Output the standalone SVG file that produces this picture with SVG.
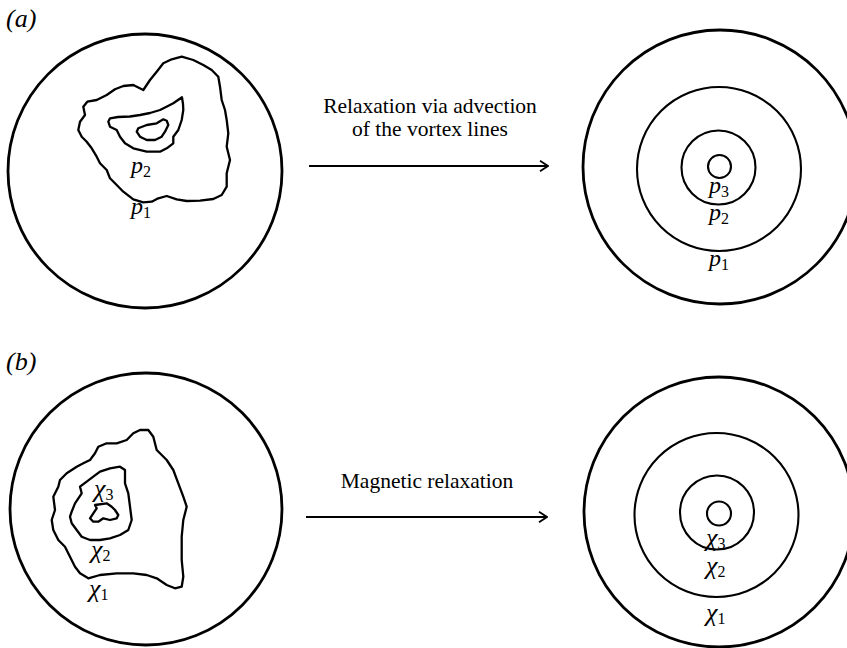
<svg xmlns="http://www.w3.org/2000/svg" width="847" height="648" viewBox="0 0 847 648">
  <style>
    .disk { fill: none; stroke: #000; stroke-width: 2.8; }
    .ring { fill: none; stroke: #000; stroke-width: 2.1; }
    .contour { fill: none; stroke: #000; stroke-width: 2.3; stroke-linejoin: round; }
    .cap { font-family: "Liberation Serif", "Times New Roman", serif; font-size: 21.5px; fill: #000; }
    .lab { font-family: "Liberation Serif", "Times New Roman", serif; font-size: 24px; font-style: italic; fill: #000; }
    .chi { font-size: 26px; }
    .panel { font-size: 26px; }
    .sub { font-style: normal; font-size: 16px; }
    .conn { fill: none; stroke: #000; stroke-width: 2; }
  </style>
  <defs>
    <marker id="chevron" viewBox="0 0 10 12" refX="9" refY="6" markerWidth="10" markerHeight="12" markerUnits="userSpaceOnUse" orient="auto">
      <path d="M1,0.8 L9,6 L1,11.2" fill="none" stroke="#000" stroke-width="1.8"/>
    </marker>
  </defs>

  <rect width="847" height="648" fill="#fff"/>

  <!-- panel labels -->
  <text class="lab panel" x="6" y="27">(a)</text>
  <text class="lab panel" x="6" y="370">(b)</text>

  <!-- (a) initial vortex-line state: tangled pressure contours -->
  <g id="a-initial">
    <circle class="disk" cx="145" cy="171" r="137"/>
    <path class="contour" d="M181.7,56.7 L193.3,60 L203.3,65 L211.7,70 L218.3,76.7 L220,86.7 L221.7,100 L225,110 L226.7,120 L228.3,133.3 L226.7,146.7 L230,160 L226.7,173.3 L226.7,186.7 L221.7,195 L213.3,199 L200,200.7 L186.7,201 L176.7,199.3 L166.7,196 L158.3,198.3 L151.7,201.7 L143.3,202.3 L133.3,199.3 L123.3,191.7 L116.7,185 L110,178.3 L106.7,170 L100,163.3 L96.7,156.7 L91.7,148.3 L86.7,141.7 L81.7,136.7 L78.3,130 L80,121.7 L85,115 L83.3,106.7 L87.3,101.7 L96.7,100 L106.7,95 L115,89.3 L123.3,86 L133.3,85 L143.3,90 L150,80 L156.7,71.7 L163.3,63.3 L171.7,59.3 Z"/>
    <path class="contour" d="M110,118.3 L118,117 L130,116.5 L140,115 L150,113 L160,110 L167,106.5 L173.3,103.3 L178,100 L182,97.3 L183,104 L183.3,110 L181.7,120 L178.3,130 L173.3,136.7 L173.3,143.3 L166.7,148.3 L160,151.7 L146.7,151.7 L133.3,148.3 L125,143.3 L120,136.7 L116.7,130 L110,126.7 L108.3,121.7 Z"/>
    <path class="contour" d="M138.3,128.3 L146.7,125 L156.7,123.3 L163.3,119.3 L166.7,120.7 L168.3,125 L165,131.7 L161.7,136.7 L155,140 L146.7,140 L140,136.7 L136.7,131.7 Z"/>
    <text class="lab" x="131" y="173">p<tspan class="sub" dy="4">2</tspan></text>
    <text class="lab" x="131" y="214">p<tspan class="sub" dy="4">1</tspan></text>
  </g>

  <!-- (a) relaxed state: nested circular contours -->
  <g id="a-relaxed">
    <circle class="disk" cx="720" cy="167" r="137"/>
    <circle class="ring" cx="719" cy="169" r="82"/>
    <circle class="ring" cx="718.5" cy="167.5" r="37"/>
    <circle class="ring" cx="719.5" cy="166.5" r="11.5"/>
    <text class="lab" x="709" y="193">p<tspan class="sub" dy="4">3</tspan></text>
    <text class="lab" x="709" y="220">p<tspan class="sub" dy="4">2</tspan></text>
    <text class="lab" x="709" y="266">p<tspan class="sub" dy="4">1</tspan></text>
  </g>

  <!-- (b) initial magnetic state: tangled flux contours -->
  <g id="b-initial">
    <circle class="disk" cx="146" cy="509" r="136"/>
    <path class="contour" d="M140,430 L148.3,430 L153.3,436.7 L156.7,450 L166.7,460 L173.3,470 L178.3,483.3 L183.3,496.7 L186.7,506.7 L183.3,520 L181.7,536.7 L181.7,560 L183.3,576.7 L181.7,586.7 L175,588.3 L166.7,585 L156.7,578.3 L146.7,575 L133.3,573.3 L116.7,573.3 L100,575 L88.3,578.3 L80,573.3 L75,566.7 L70,556.7 L65,546.7 L58.3,540 L53.3,530 L51.7,520 L55,510 L53.3,496.7 L58.3,486.7 L60,480 L66.7,473.3 L76.7,466.7 L83.3,463.3 L90,460 L95,453.3 L98.3,446.7 L106.7,443.3 L116.7,443.3 L126.7,440 L133.3,433.3 Z"/>
    <path class="contour" d="M71.7,511.7 L75,503.3 L81.7,493.3 L80,486.7 L86.7,481.7 L93.3,476.7 L100,471.7 L110,468.3 L120,466.7 L125,470 L125,483.3 L128.3,493.3 L130,506.7 L131.7,520 L128.3,530 L120,535 L110,538.3 L100,540 L90,540 L81.7,536.7 L76.7,530 L71.7,523.3 L70,516.7 Z"/>
    <path class="contour" d="M95,505 L106.7,503.3 L111.7,506.7 L115,510 L118.3,515 L116.7,518.3 L110,520 L103.3,518.3 L98.3,521.7 L93.3,521.7 L90,518.3 L93.3,513.3 L96.7,508.3 Z"/>
    <text class="lab chi" x="94" y="497">χ<tspan class="sub" dy="3">3</tspan></text>
    <text class="lab chi" x="91" y="558">χ<tspan class="sub" dy="3">2</tspan></text>
    <text class="lab chi" x="89" y="597">χ<tspan class="sub" dy="3">1</tspan></text>
  </g>

  <!-- (b) relaxed magnetic state: nested circles -->
  <g id="b-relaxed">
    <circle class="disk" cx="719" cy="512" r="135"/>
    <circle class="ring" cx="716.5" cy="515" r="82"/>
    <circle class="ring" cx="717" cy="512.5" r="37"/>
    <circle class="ring" cx="719" cy="513.5" r="12"/>
    <text class="lab chi" x="706" y="546">χ<tspan class="sub" dy="3">3</tspan></text>
    <text class="lab chi" x="706" y="574">χ<tspan class="sub" dy="3">2</tspan></text>
    <text class="lab chi" x="706" y="621">χ<tspan class="sub" dy="3">1</tspan></text>
  </g>

  <!-- relaxation arrows with captions -->
  <g id="connectors">
    <path class="conn" d="M309,166 L548,166" marker-end="url(#chevron)"/>
    <text class="cap" x="430" y="112.5" text-anchor="middle">Relaxation via advection</text>
    <text class="cap" x="430" y="136" text-anchor="middle">of the vortex lines</text>
    <path class="conn" d="M306,517 L547,517" marker-end="url(#chevron)"/>
    <text class="cap" x="427" y="488" text-anchor="middle">Magnetic relaxation</text>
  </g>
</svg>
